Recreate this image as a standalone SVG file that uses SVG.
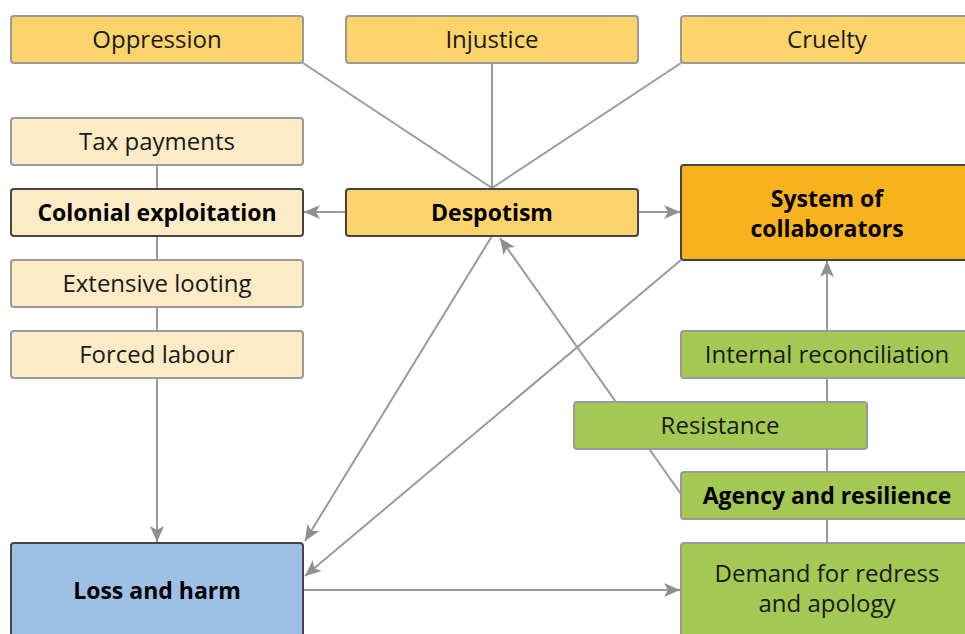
<svg xmlns="http://www.w3.org/2000/svg" width="965" height="634" viewBox="0 0 965 634">
<defs>
<marker id="ah" markerUnits="userSpaceOnUse" markerWidth="18" markerHeight="16" refX="16" refY="8" orient="auto">
<path d="M0,1 L16,8 L0,15 L4,8 z" fill="#8f8f8f"/>
</marker>
<style>
.ln{stroke:#9a9a9a;stroke-width:2;fill:none}
.ar{stroke:#9a9a9a;stroke-width:2;fill:none;marker-end:url(#ah)}
.b{stroke:#9a9a9a;stroke-width:2}
.bd{stroke:#454545;stroke-width:2}
.y{fill:#fdd36b}
.ly{fill:#fdebc6}
.or{fill:#f8b31c}
.g{fill:#a3c853}
.bl{fill:#9fc0e6}
text{font-family:"Open Sans","Noto Sans",sans-serif;font-size:24px;fill:#1a1a1a;text-anchor:middle}
.t{font-weight:bold;font-size:23px;fill:#000}
</style>
</defs>
<rect width="965" height="634" fill="#fff"/>
<g id="connectors">
<line class="ln" x1="303" y1="63" x2="492" y2="188"/>
<line class="ln" x1="492" y1="63" x2="492" y2="188"/>
<line class="ln" x1="681" y1="63" x2="492" y2="188"/>
<line class="ar" x1="346" y1="212" x2="304" y2="212"/>
<line class="ar" x1="638" y1="212" x2="680" y2="212"/>
<line class="ln" x1="157" y1="165" x2="157" y2="331"/>
<line class="ar" x1="157" y1="378" x2="157" y2="542"/>
<line class="ar" x1="492" y1="236" x2="305" y2="541"/>
<line class="ar" x1="681" y1="260" x2="305" y2="576"/>
<line class="ar" x1="681" y1="494" x2="500" y2="238"/>
<line class="ar" x1="827" y1="331" x2="827" y2="261"/>
<line class="ln" x1="827" y1="378" x2="827" y2="543"/>
<line class="ar" x1="303" y1="590" x2="680" y2="590"/>
</g>
<g id="oppression"><rect class="y b" x="11" y="16" width="292" height="47" rx="3"/><text x="157" y="48">Oppression</text></g>
<g id="injustice"><rect class="y b" x="346" y="16" width="292" height="47" rx="3"/><text x="492" y="48">Injustice</text></g>
<g id="cruelty"><rect class="y b" x="681" y="16" width="292" height="47" rx="3"/><text x="827" y="48">Cruelty</text></g>
<g id="tax"><rect class="ly b" x="11" y="118" width="292" height="47" rx="3"/><text x="157" y="150">Tax payments</text></g>
<g id="colonial"><rect class="ly bd" x="11" y="189" width="292" height="47" rx="3"/><text class="t" x="157" y="221">Colonial exploitation</text></g>
<g id="looting"><rect class="ly b" x="11" y="260" width="292" height="47" rx="3"/><text x="157" y="292">Extensive looting</text></g>
<g id="forced"><rect class="ly b" x="11" y="331" width="292" height="47" rx="3"/><text x="157" y="363">Forced labour</text></g>
<g id="despotism"><rect class="y bd" x="346" y="189" width="292" height="47" rx="3"/><text class="t" x="492" y="221">Despotism</text></g>
<g id="collaborators"><rect class="or bd" x="681" y="165" width="292" height="95" rx="3"/><text class="t" x="827" y="207">System of</text><text class="t" x="827" y="237">collaborators</text></g>
<g id="reconciliation"><rect class="g b" x="681" y="331" width="292" height="47" rx="3"/><text x="827" y="363">Internal reconciliation</text></g>
<g id="resistance"><rect class="g b" x="574" y="402" width="293" height="47" rx="3"/><text x="720" y="434">Resistance</text></g>
<g id="agency"><rect class="g b" x="681" y="472" width="292" height="47" rx="3"/><text class="t" x="827" y="504">Agency and resilience</text></g>
<g id="demand"><rect class="g b" x="681" y="543" width="292" height="100" rx="3"/><text x="827" y="582">Demand for redress</text><text x="827" y="612">and apology</text></g>
<g id="loss"><rect class="bl bd" x="11" y="543" width="292" height="100" rx="3"/><text class="t" x="157" y="599">Loss and harm</text></g>
</svg>
